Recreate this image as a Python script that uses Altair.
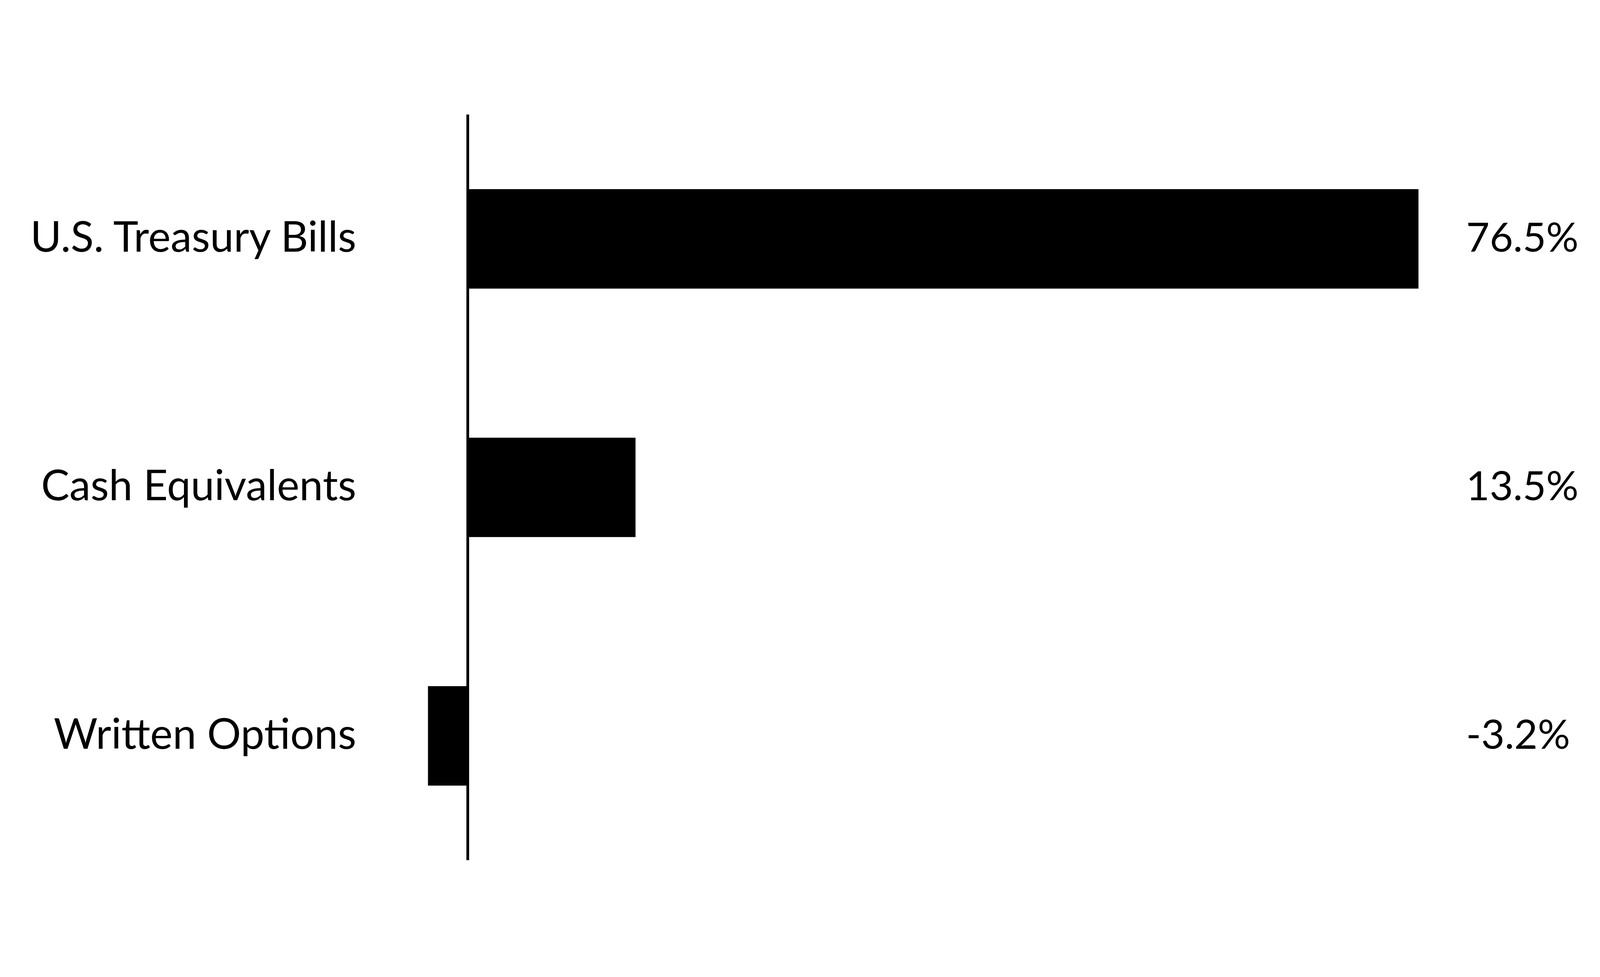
import altair as alt
import pandas as pd

categories = ["U.S. Treasury Bills", "Cash Equivalents", "Written Options"]
values = [76.5, 13.5, -3.2]
value_labels = [f"{v:.1f}%" for v in values]

df = pd.DataFrame({"category": categories, "value": values, "label": value_labels})

FONT = "Lato"
FS = 132
FW = 400
VFS = 126

base = alt.Chart(df)

y_enc = alt.Y(
    "category:N",
    sort=categories,
    scale=alt.Scale(paddingInner=0.6, paddingOuter=0.3),
    axis=alt.Axis(
        title=None, domain=False, ticks=False, labelFont=FONT,
        labelFontSize=FS, labelColor="black", labelPadding=38,
        labelFontWeight=FW, labelLimit=2000,
    ),
)

x_enc = alt.X(
    "value:Q",
    scale=alt.Scale(domain=[-8, 80], nice=False, zero=True),
    axis=None,
)

bars = base.mark_bar(color="black").encode(x=x_enc, y=y_enc)

rule = base.mark_rule(color="black", strokeWidth=8).encode(
    x=alt.datum(0)
)

texts = base.mark_text(
    align="left", baseline="middle", font=FONT, fontSize=VFS,
    fontWeight=FW, color="black", dy=2
).encode(
    y=alt.Y("category:N", sort=categories),
    x=alt.value(3418),
    text="label:N",
)

chart = (
    alt.layer(bars, rule, texts)
    .properties(
        width=3405,
        height=2320,
        autosize=alt.AutoSizeParams(type="none"),
        padding={"left": 1137, "top": 81, "right": 420, "bottom": 60},
    )
    .configure_view(stroke=None)
)

chart.save("out.html", embed_options={"renderer": "svg", "actions": False})
